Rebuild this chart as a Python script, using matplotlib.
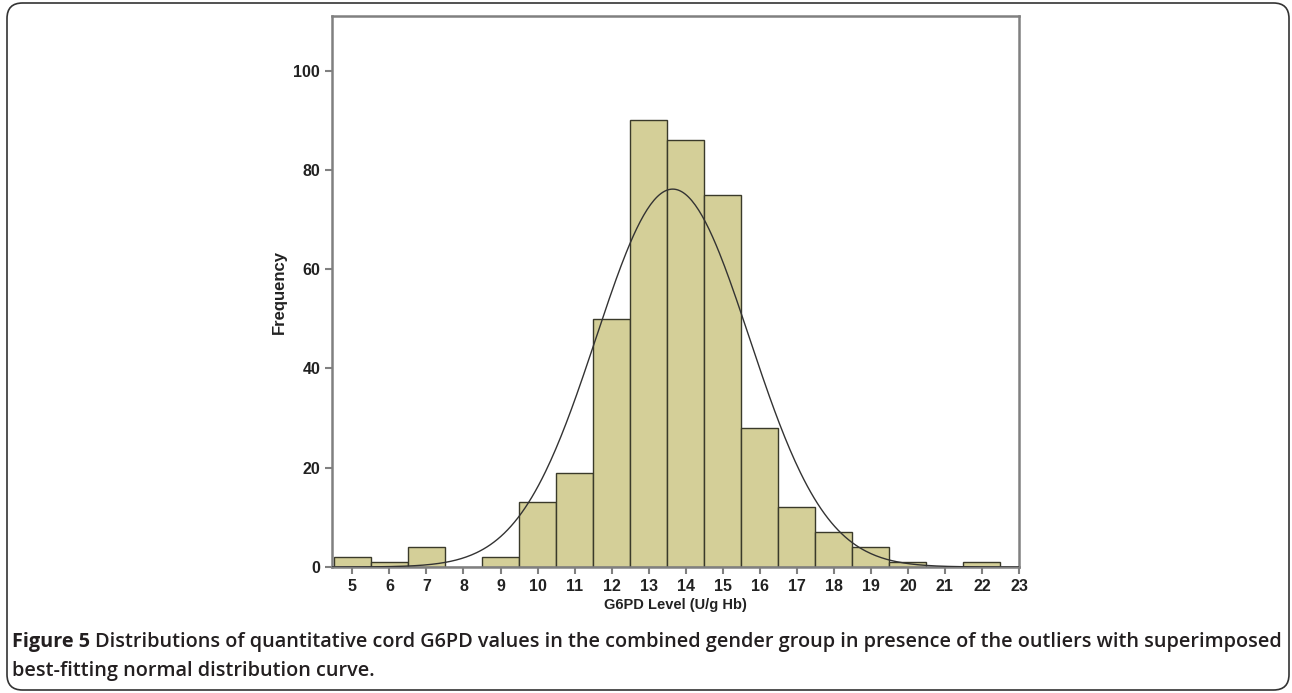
import numpy as np
import matplotlib
matplotlib.use("Agg")
import matplotlib.pyplot as plt
from matplotlib.patches import FancyBboxPatch

# histogram bins (centred on integer G6PD levels) and counts
levels = [5, 6, 7, 8, 9, 10, 11, 12, 13, 14, 15, 16, 17, 18, 19, 20, 21, 22]
counts = [2, 1, 4, 0, 2, 13, 19, 50, 90, 86, 75, 28, 12, 7, 4, 1, 0, 1]

# fitted normal curve parameters
fit_mean = 13.65
fit_sd = 2.07
n_total = sum(counts)

xticks = list(range(5, 24))
yticks = [0, 20, 40, 60, 80, 100]

fig = plt.figure(figsize=(12.92, 6.93), dpi=100)
fig.patch.set_facecolor("white")

# rounded outer frame of the figure panel
frame = FancyBboxPatch((7 / 1292, 3 / 693), 1282 / 1292, 687 / 693,
                       boxstyle="round,pad=0,rounding_size=0.012",
                       transform=fig.transFigure, fill=False,
                       edgecolor="#333333", linewidth=1.2, mutation_aspect=1292 / 693)
fig.patches.append(frame)

ax = fig.add_axes([332 / 1292, 1 - 567 / 693, (1019 - 332) / 1292, (567 - 16) / 693])

ax.bar(levels, counts, width=1.0, color="#d4cf98", edgecolor="#3a3a2a", linewidth=1.0, zorder=2)

xs = np.linspace(4.45, 23, 400)
ys = n_total / (fit_sd * np.sqrt(2 * np.pi)) * np.exp(-0.5 * ((xs - fit_mean) / fit_sd) ** 2)
ax.plot(xs, ys, color="#333333", linewidth=1.0, zorder=3)

ax.set_xlim(4.45, 23)
ax.set_ylim(0, 111)
ax.set_xticks(xticks)
ax.set_yticks(yticks)

for s in ax.spines.values():
    s.set_color("#808080")
    s.set_linewidth(1.8)

ax.tick_params(axis="both", colors="#808080", length=5, width=1.5, labelcolor="black",
               labelsize=11.5)
for lab in ax.get_xticklabels() + ax.get_yticklabels():
    lab.set_family("Liberation Sans")
    lab.set_fontweight("bold")
    lab.set_color("#222222")

ax.set_xlabel("G6PD Level (U/g Hb)", family="Liberation Sans", fontsize=10.5,
              fontweight="bold", color="#222222", labelpad=3)
ax.set_ylabel("Frequency", family="Liberation Sans", fontsize=12,
              fontweight="bold", color="#222222", labelpad=5)

# caption with bold lead-in
cap_font = dict(family="Open Sans", fontsize=14.3, color="#231f20")
t1 = fig.text(12 / 1292, 1 - 642 / 693, "Figure 5", fontweight="bold", va="center", **cap_font)
fig.canvas.draw()
bb = t1.get_window_extent()
fig.text(bb.x1 / 1292 + 5 / 1292, 1 - 642 / 693,
         "Distributions of quantitative cord G6PD values in the combined gender group in presence of the outliers with superimposed",
         fontweight="semibold", va="center", **cap_font)
fig.text(12 / 1292, 1 - 671 / 693, "best-fitting normal distribution curve.",
         fontweight="semibold", va="center", **cap_font)

fig.savefig("out.png", dpi=100)
